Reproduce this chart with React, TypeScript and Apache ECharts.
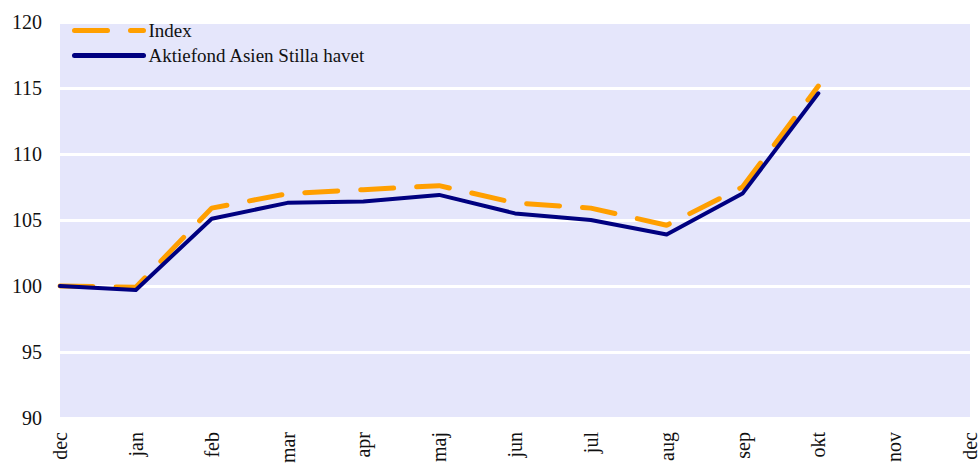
import React, { useEffect, useRef } from "react";
import * as echarts from "echarts";

const months = ["dec", "jan", "feb", "mar", "apr", "maj", "jun", "jul", "aug", "sep", "okt", "nov", "dec"];
const indexValues: (number | null)[] = [100, 99.9, 105.9, 107.0, 107.3, 107.6, 106.3, 105.9, 104.6, 107.5, 115.15, null, null];
const fundValues: (number | null)[] = [100, 99.7, 105.1, 106.3, 106.4, 106.9, 105.5, 105.0, 103.9, 107.0, 114.6, null, null];
const seriesNames = ["Index", "Aktiefond Asien Stilla havet"];

const FONT = "'Liberation Serif', 'DejaVu Serif', serif";

export default function App() {
  const ref = useRef<HTMLDivElement>(null);
  useEffect(() => {
    if (!ref.current) return;
    const chart = echarts.init(ref.current, undefined, { renderer: "svg" });
    chart.setOption({
      animation: false,
      backgroundColor: "#ffffff",
      textStyle: { fontFamily: FONT },
      grid: {
        left: 60,
        right: 9,
        top: 22,
        bottom: 49,
        show: true,
        backgroundColor: "#E5E6FB",
        borderWidth: 0,
      },
      legend: {
        show: true,
        left: 72,
        top: 21,
        orient: "vertical",
        padding: 0,
        itemWidth: 69,
        itemHeight: 17,
        itemGap: 6,
        itemStyle: { opacity: 0 },
        lineStyle: { width: 5, cap: "round" },
        textStyle: { fontFamily: FONT, fontSize: 19, color: "#111" },
        data: seriesNames,
      },
      xAxis: {
        type: "category",
        data: months,
        boundaryGap: false,
        axisLine: { show: false },
        axisTick: { show: false },
        axisLabel: {
          rotate: 90,
          fontFamily: FONT,
          fontSize: 20,
          color: "#111",
          margin: 14,
          interval: 0,
        },
        splitLine: { show: false },
      },
      yAxis: {
        type: "value",
        min: 90,
        max: 120,
        interval: 5,
        axisLine: { show: false },
        axisTick: { show: false },
        axisLabel: {
          fontFamily: FONT,
          fontSize: 20,
          color: "#111",
          margin: 18,
        },
        splitLine: { show: true, lineStyle: { color: "#ffffff", width: 3 } },
      },
      series: [
        {
          name: seriesNames[0],
          type: "line",
          data: indexValues,
          symbol: "none",
          z: 3,
          lineStyle: {
            color: "#FF9F00",
            width: 5,
            type: [33, 23],
            cap: "round",
          },
          itemStyle: { color: "#FF9F00" },
        },
        {
          name: seriesNames[1],
          type: "line",
          data: fundValues,
          symbol: "none",
          z: 4,
          lineStyle: { color: "#000080", width: 4, cap: "round", join: "round" },
          itemStyle: { color: "#000080" },
        },
      ],
    });
    return () => chart.dispose();
  }, []);
  return <div ref={ref} style={{ width: 980, height: 467, position: "absolute", left: 0, top: 0 }} />;
}
